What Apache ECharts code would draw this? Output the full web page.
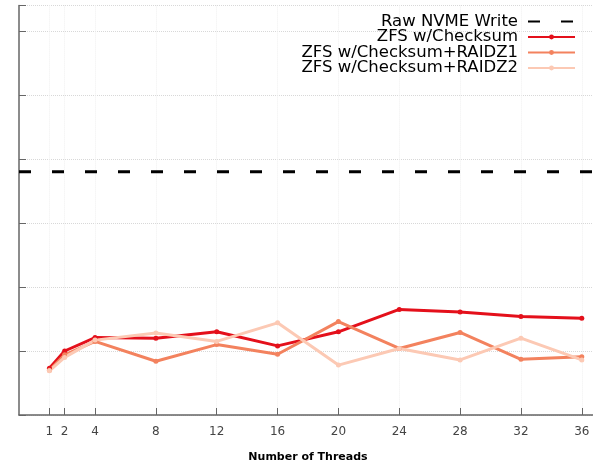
<!DOCTYPE html>
<html>
<head>
<meta charset="utf-8">
<script src="https://cdn.jsdelivr.net/npm/echarts@6/dist/echarts.min.js"></script>
<style>
  html, body { margin: 0; padding: 0; background: #fff; }
  #chart { width: 593px; height: 462px; }
</style>
</head>
<body>
<div id="chart"></div>
<script>
// thread counts on the x axis
var threads = [1, 2, 4, 8, 12, 16, 20, 24, 28, 32, 36];
// write throughput (relative units)
var zfsChecksum = [0.73, 1.00, 1.21, 1.20, 1.30, 1.08, 1.30, 1.65, 1.61, 1.54, 1.51];
var zfsRaidz1 = [0.70, 0.94, 1.15, 0.84, 1.10, 0.95, 1.46, 1.04, 1.29, 0.87, 0.91];
var zfsRaidz2 = [0.69, 0.90, 1.17, 1.28, 1.15, 1.44, 0.78, 1.04, 0.86, 1.20, 0.86];
var rawNvme = 3.8;
var xRange = [-1, 37];

var names = ['Raw NVME Write', 'ZFS w/Checksum', 'ZFS w/Checksum+RAIDZ1', 'ZFS w/Checksum+RAIDZ2'];
var colors = ['#000000', '#e4101b', '#f3825e', '#fcc9b4'];

function pairs(ys) {
    var out = [];
    for (var i = 0; i < threads.length; i++) {
        out.push([threads[i], ys[i]]);
    }
    return out;
}

function lineSeries(idx, ys) {
    return {
        name: names[idx],
        type: 'line',
        data: pairs(ys),
        color: colors[idx],
        symbol: 'circle',
        symbolSize: 5,
        lineStyle: { width: 3 },
        itemStyle: { color: colors[idx] },
        animation: false
    };
}

var chart = echarts.init(document.getElementById('chart'), null, { renderer: 'canvas' });

var option = {
    animation: false,
    grid: {
        left: 19,
        top: 5.4,
        width: 578,
        height: 409.6,
        containLabel: false,
        outerBoundsMode: 'none'
    },
    legend: {
        orient: 'vertical',
        right: 17,
        top: 13,
        padding: 0,
        align: 'right',
        itemWidth: 47,
        itemHeight: 6,
        itemGap: -1.5,
        textStyle: {
            fontFamily: 'DejaVu Sans',
            fontSize: 16.5,
            lineHeight: 15,
            color: '#000',
            padding: [0, 5, 0, 0]
        },
        data: [
            { name: names[0], itemStyle: { opacity: 0 } },
            names[1],
            names[2],
            names[3]
        ]
    },
    xAxis: {
        type: 'value',
        min: xRange[0],
        max: xRange[1],
        name: 'Number of Threads',
        nameLocation: 'middle',
        nameGap: 37,
        nameTextStyle: {
            fontFamily: 'DejaVu Sans',
            fontSize: 11,
            fontWeight: 'bold',
            color: '#000'
        },
        axisLine: { onZero: false, lineStyle: { color: '#666', width: 1.5 } },
        axisTick: {
            inside: true,
            length: 7,
            customValues: threads,
            lineStyle: { color: '#666' }
        },
        axisLabel: {
            customValues: threads,
            margin: 11,
            fontFamily: 'DejaVu Sans',
            fontSize: 12,
            color: '#444'
        },
        splitLine: {
            show: true,
            customValues: threads,
            lineStyle: { color: '#f0f0f0', type: 'dotted', width: 1 }
        }
    },
    yAxis: {
        type: 'value',
        min: 0,
        max: 6.4,
        interval: 1,
        axisLine: { show: true, onZero: false, lineStyle: { color: '#666', width: 1.5 } },
        axisTick: { show: true, inside: true, length: 7, lineStyle: { color: '#666' } },
        axisLabel: { show: false },
        splitLine: {
            show: true,
            lineStyle: { color: '#d8d8d8', type: 'dotted', width: 1 }
        }
    },
    series: [
        {
            name: names[0],
            type: 'line',
            data: [[xRange[0], rawNvme], [xRange[1], rawNvme]],
            color: colors[0],
            symbol: 'none',
            lineStyle: { width: 3, type: [12, 21], color: colors[0] },
            animation: false
        },
        lineSeries(1, zfsChecksum),
        lineSeries(2, zfsRaidz1),
        lineSeries(3, zfsRaidz2)
    ]
};

chart.setOption(option);
</script>
</body>
</html>
